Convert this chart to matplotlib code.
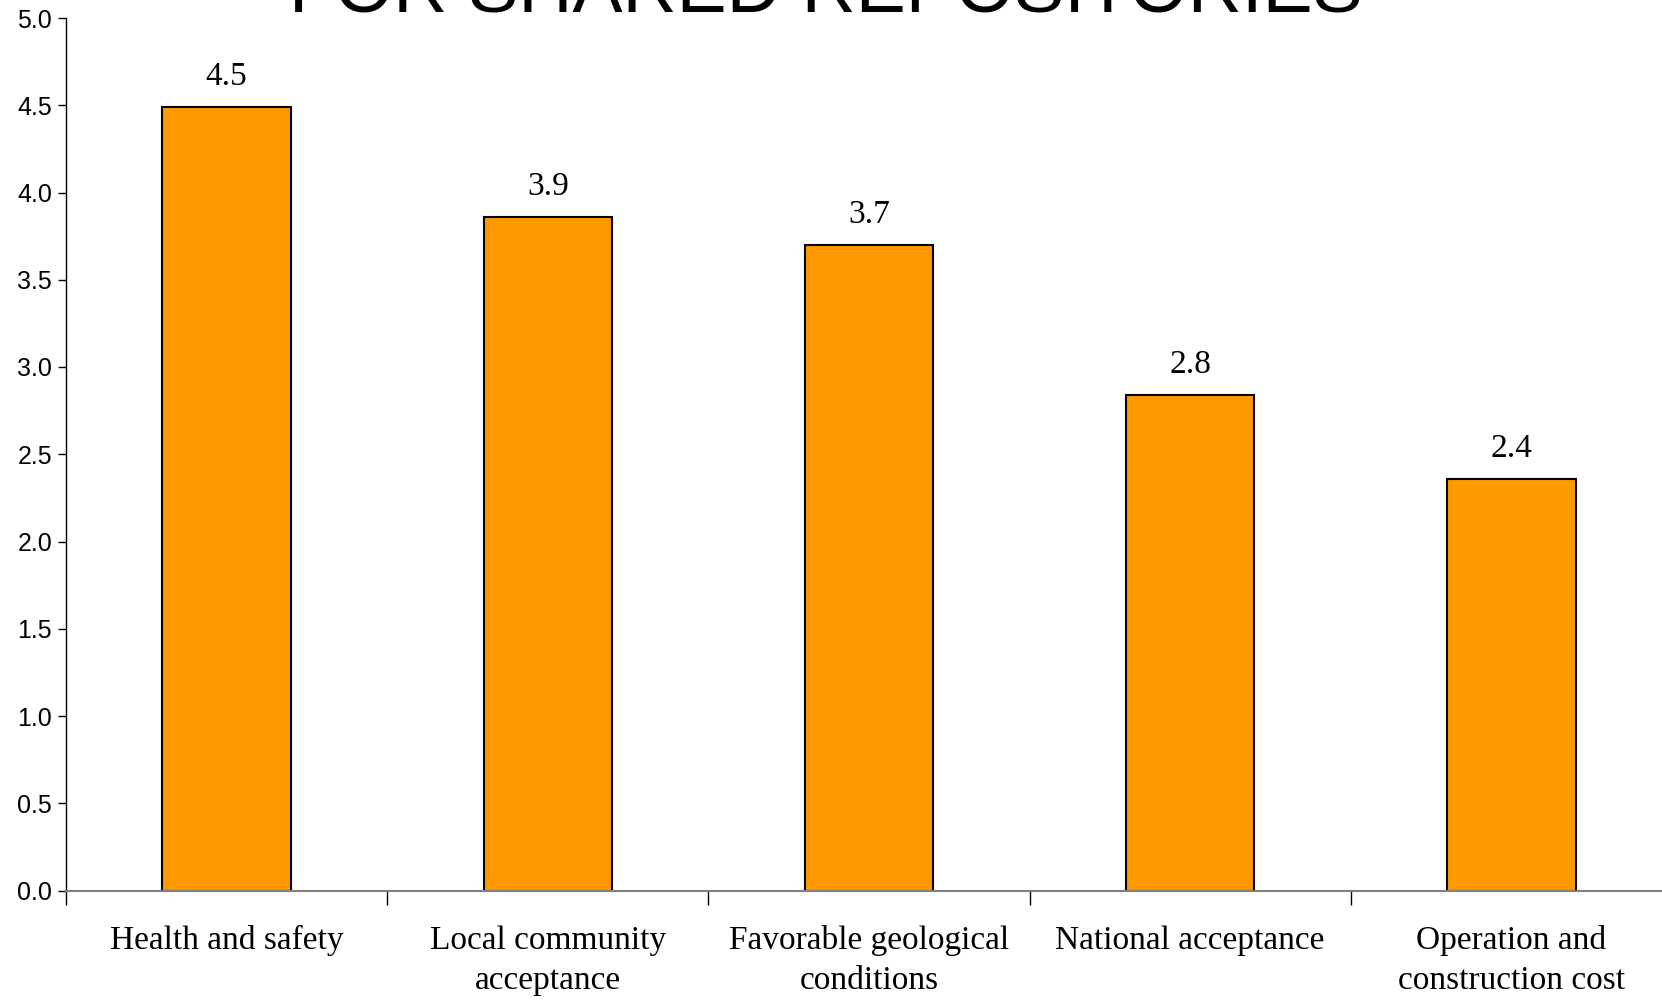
import matplotlib
matplotlib.use("Agg")
import matplotlib.pyplot as plt
import numpy as np

categories = ["Health and safety", "Local community\nacceptance",
              "Favorable geological\nconditions", "National acceptance",
              "Operation and\nconstruction cost"]
values = [4.49, 3.86, 3.70, 2.84, 2.36]
value_labels = ["4.5", "3.9", "3.7", "2.8", "2.4"]
yticks = [0.0, 0.5, 1.0, 1.5, 2.0, 2.5, 3.0, 3.5, 4.0, 4.5, 5.0]
title = "FOR SHARED REPOSITORIES"

fig = plt.figure(figsize=(16.62, 10), dpi=100)
ax = fig.add_axes([0.0397, 0.1095, 1.006 - 0.0397, 0.982 - 0.1095])

x = np.arange(len(categories))
bars = ax.bar(x, values, width=0.40, color="#FF9900", edgecolor="black", linewidth=1.5, zorder=2)

for xi, v, lab in zip(x, values, value_labels):
    ax.annotate(lab, (xi, v), xytext=(0, 10.5), textcoords="offset points",
                ha="center", va="bottom", fontsize=24, family="Liberation Serif")

ax.set_xlim(-0.5, len(categories) - 0.5)
ax.set_ylim(0, 5)
ax.set_yticks(yticks)
ax.set_yticklabels([f"{t:.1f}" for t in yticks], fontsize=18, family="Liberation Sans")
ax.tick_params(axis="y", direction="out", length=6, width=1, pad=4)

ax.set_xticks(np.arange(len(categories) + 1) - 0.5)
ax.set_xticklabels([])
ax.tick_params(axis="x", which="major", direction="out", length=10, width=1, color="black")
ax.set_xticks(x, minor=True)
ax.set_xticklabels(categories, minor=True, fontsize=24, family="Liberation Serif",
                   linespacing=1.4)
ax.tick_params(axis="x", which="minor", length=0, pad=25)

ax.spines["top"].set_visible(False)
ax.spines["right"].set_visible(False)
ax.spines["left"].set_linewidth(1)
ax.spines["bottom"].set_color("#808080")
ax.spines["bottom"].set_linewidth(1.5)

fig.text(0.497, 0.989, title, ha="center", va="baseline", fontsize=54,
         family="Liberation Sans")

fig.savefig("out.png", dpi=100, facecolor="white")
